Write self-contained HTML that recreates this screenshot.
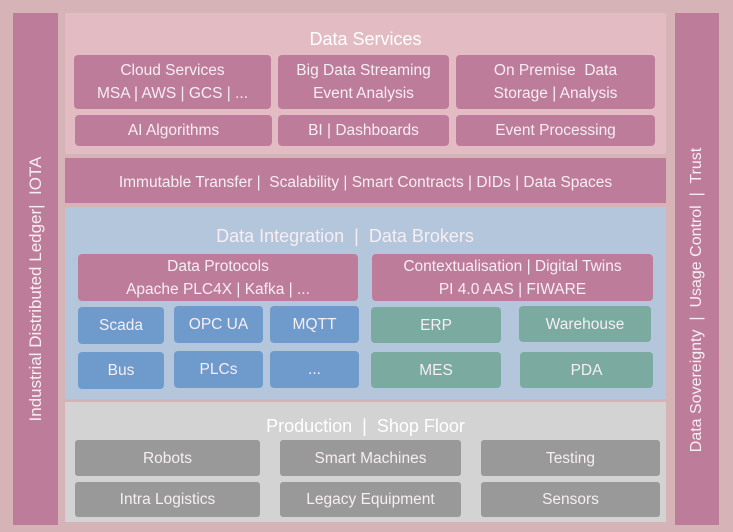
<!DOCTYPE html>
<html><head><meta charset="utf-8"><style>
*{margin:0;padding:0;box-sizing:border-box}
body{width:733px;height:532px;background:#d5b3b7;position:relative;overflow:hidden;font-family:"Liberation Sans",sans-serif;color:#f6eef2}
.a{position:absolute;display:flex;align-items:center;justify-content:center;text-align:center;line-height:23px;font-size:15.5px}
.p{background:#be7c9b;border-radius:4px}
.b{background:#6f9bcc;border-radius:4px}
.t{background:#7aaaa0;border-radius:4px}
.g{background:#999999;border-radius:3px}
.v{position:absolute;background:#be7c9b}
.v span{position:absolute;left:50%;top:50%;white-space:nowrap;font-size:16px;transform:translate(-50%,-50%) rotate(-90deg)}
</style></head><body>
<div class="v" style="left:13px;top:13px;width:45px;height:512px"><span style="top:54%;font-size:17px">Industrial Distributed Ledger|&nbsp; IOTA</span></div>
<div class="v" style="left:675px;top:13px;width:44px;height:512px"><span style="top:56%">Data Sovereignty &nbsp;|&nbsp; Usage Control &nbsp;|&nbsp; Trust</span></div>

<div class="a" style="left:65px;top:13px;width:601px;height:141px;background:#e2bcc2;border-radius:2px"></div>
<div class="a" style="left:65px;top:26px;width:601px;height:26px;font-size:18px;color:#fff">Data Services</div>
<div class="a p" style="left:74px;top:55px;width:197px;height:54px">Cloud Services<br>MSA | AWS | GCS | ...</div>
<div class="a p" style="left:278px;top:55px;width:171px;height:54px">Big Data Streaming<br>Event Analysis</div>
<div class="a p" style="left:456px;top:55px;width:199px;height:54px">On Premise&nbsp; Data<br>Storage | Analysis</div>
<div class="a p" style="left:75px;top:115px;width:197px;height:31px">AI Algorithms</div>
<div class="a p" style="left:278px;top:115px;width:171px;height:31px">BI | Dashboards</div>
<div class="a p" style="left:456px;top:115px;width:199px;height:31px">Event Processing</div>

<div class="a p" style="left:65px;top:158px;width:601px;height:45px;border-radius:0;padding-top:4px">Immutable Transfer |&nbsp; Scalability | Smart Contracts | DIDs | Data Spaces</div>

<div class="a" style="left:65px;top:207px;width:601px;height:192px;background:#b4c6dc"></div>
<div class="a" style="left:65px;top:223px;width:560px;height:26px;font-size:18px">Data Integration &nbsp;|&nbsp; Data Brokers</div>
<div class="a p" style="left:78px;top:254px;width:280px;height:47px">Data Protocols<br>Apache PLC4X | Kafka | ...</div>
<div class="a p" style="left:372px;top:254px;width:281px;height:47px">Contextualisation | Digital Twins<br>PI 4.0 AAS | FIWARE</div>
<div class="a b" style="left:78px;top:307px;width:86px;height:37px">Scada</div>
<div class="a b" style="left:174px;top:306px;width:89px;height:37px">OPC UA</div>
<div class="a b" style="left:270px;top:306px;width:89px;height:37px">MQTT</div>
<div class="a b" style="left:78px;top:352px;width:86px;height:37px">Bus</div>
<div class="a b" style="left:174px;top:351px;width:89px;height:37px">PLCs</div>
<div class="a b" style="left:270px;top:351px;width:89px;height:37px">...</div>
<div class="a t" style="left:371px;top:307px;width:130px;height:36px">ERP</div>
<div class="a t" style="left:519px;top:306px;width:132px;height:36px">Warehouse</div>
<div class="a t" style="left:371px;top:352px;width:130px;height:36px">MES</div>
<div class="a t" style="left:520px;top:352px;width:133px;height:36px">PDA</div>

<div class="a" style="left:65px;top:402px;width:601px;height:120px;background:#d3d3d3"></div>
<div class="a" style="left:65px;top:413px;width:601px;height:26px;font-size:18px;color:#fff">Production &nbsp;|&nbsp; Shop Floor</div>
<div class="a g" style="left:75px;top:440px;width:185px;height:36px">Robots</div>
<div class="a g" style="left:280px;top:440px;width:181px;height:36px">Smart Machines</div>
<div class="a g" style="left:481px;top:440px;width:179px;height:36px">Testing</div>
<div class="a g" style="left:75px;top:482px;width:185px;height:35px">Intra Logistics</div>
<div class="a g" style="left:280px;top:482px;width:181px;height:35px">Legacy Equipment</div>
<div class="a g" style="left:481px;top:482px;width:179px;height:35px">Sensors</div>
</body></html>
